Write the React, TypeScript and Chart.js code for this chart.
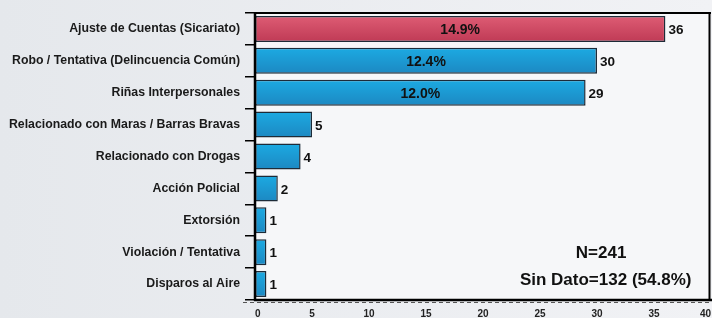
import React, { useEffect, useRef } from "react";
import { Chart, registerables } from "chart.js";

Chart.register(...registerables);

const categories = [
  "Ajuste de Cuentas (Sicariato)",
  "Robo / Tentativa (Delincuencia Común)",
  "Riñas Interpersonales",
  "Relacionado con Maras / Barras Bravas",
  "Relacionado con Drogas",
  "Acción Policial",
  "Extorsión",
  "Violación / Tentativa",
  "Disparos al Aire",
];
const counts = [36, 30, 29, 5, 4, 2, 1, 1, 1];
const percentLabels = ["14.9%", "12.4%", "12.0%", "", "", "", "", "", ""];
const highlight = [true, false, false, false, false, false, false, false, false];
const xTicks = [0, 5, 10, 15, 20, 25, 30, 35, 40];
const noteLines = ["N=241", "Sin Dato=132 (54.8%)"];

const FONT = "'Liberation Sans', Arial, sans-serif";

export default function App() {
  const ref = useRef<HTMLCanvasElement | null>(null);

  useEffect(() => {
    document.body.style.margin = "0";
    const canvas = ref.current;
    if (!canvas) return;

    const bgPlugin = {
      id: "bg",
      beforeDraw(chart: any) {
        const { ctx, width, height, chartArea: a } = chart;
        ctx.save();
        const g = ctx.createLinearGradient(0, 0, width, 0);
        g.addColorStop(0, "#e5e8ec");
        g.addColorStop(1, "#f1f2f5");
        ctx.fillStyle = g;
        ctx.fillRect(0, 0, width, height);
        ctx.fillStyle = "#f6f7f9";
        ctx.fillRect(a.left, a.top, a.right - a.left, a.bottom - a.top);
        ctx.restore();
      },
      afterDraw(chart: any) {
        const { ctx, chartArea: a, width } = chart;
        ctx.save();
        ctx.strokeStyle = "#000";
        ctx.lineWidth = 2;
        ctx.beginPath();
        ctx.moveTo(a.left, a.top);
        ctx.lineTo(a.right, a.top);
        ctx.moveTo(a.right - 1.5, a.top);
        ctx.lineTo(a.right - 1.5, a.bottom);
        ctx.stroke();
        ctx.lineWidth = 2.5;
        ctx.beginPath();
        ctx.moveTo(a.left, a.top - 1);
        ctx.lineTo(a.left, a.bottom + 1);
        ctx.moveTo(a.left - 1, a.bottom);
        ctx.lineTo(width, a.bottom);
        ctx.stroke();
        ctx.strokeStyle = "#555";
        ctx.lineWidth = 1;
        ctx.setLineDash([4, 3]);
        ctx.beginPath();
        ctx.moveTo(a.left - 12, a.bottom + 2.5);
        ctx.lineTo(width, a.bottom + 2.5);
        ctx.stroke();
        ctx.setLineDash([]);

        const meta = chart.getDatasetMeta(0);
        ctx.textBaseline = "middle";
        meta.data.forEach((bar: any, i: number) => {
          ctx.fillStyle = "#111";
          ctx.textAlign = "left";
          ctx.font = `bold 13.5px ${FONT}`;
          ctx.fillText(String(counts[i]), bar.x + 3, bar.y + 1.5);
          if (percentLabels[i]) {
            ctx.font = `bold 14px ${FONT}`;
            ctx.textAlign = "center";
            ctx.fillText(percentLabels[i], (bar.base + bar.x) / 2, bar.y + 1.5);
          }
        });

        ctx.font = `bold 17px ${FONT}`;
        ctx.textAlign = "center";
        ctx.fillStyle = "#111";
        const w = a.right - a.left;
        ctx.fillText(noteLines[0], a.left + 0.759 * w, a.bottom - 46.5);
        ctx.fillText(noteLines[1], a.left + 0.769 * w, a.bottom - 19.5);
        ctx.restore();
      },
    };

    const chart = new Chart(canvas, {
      type: "bar",
      data: {
        labels: categories,
        datasets: [
          {
            data: counts,
            backgroundColor: (c: any) => {
              const i = c.dataIndex;
              const ch = c.chart;
              const y = ch.scales?.y;
              const red = highlight[i];
              const fallback = red ? "#d04a64" : "#1c9bd6";
              if (!y || i === undefined) return fallback;
              const cy = y.getPixelForValue(i);
              if (!Number.isFinite(cy)) return fallback;
              const g = ch.ctx.createLinearGradient(0, cy - 13, 0, cy + 13);
              if (red) {
                g.addColorStop(0, "#de5c74");
                g.addColorStop(1, "#bf3a55");
              } else {
                g.addColorStop(0, "#1caae2");
                g.addColorStop(1, "#1c88c2");
              }
              return g;
            },
            borderColor: "#1d2b38",
            borderWidth: 1.5,
            borderSkipped: false,
            barPercentage: 0.815,
            categoryPercentage: 1,
          },
        ],
      },
      options: {
        indexAxis: "y",
        animation: false,
        responsive: false,
        maintainAspectRatio: false,
        layout: { padding: { top: 13, right: 1, left: 0, bottom: 0 } },
        plugins: {
          legend: { display: false },
          tooltip: { enabled: false },
        },
        scales: {
          x: {
            min: 0,
            max: 40,
            afterBuildTicks: (s: any) => {
              s.ticks = xTicks.map((v) => ({ value: v }));
            },
            grid: { display: false, drawTicks: false },
            border: { display: false },
            ticks: {
              color: "#222",
              font: { family: FONT, size: 10, weight: "bold" },
              padding: 8,
              maxRotation: 0,
              align: "inner",
            },
            afterFit: (s: any) => {
              s.height = 18;
              s.paddingLeft = 0;
              s.paddingRight = 0;
            },
          },
          y: {
            grid: {
              drawOnChartArea: false,
              drawTicks: true,
              tickLength: 10,
              color: "#000",
              lineWidth: 1.5,
              offset: true,
            },
            border: { display: false },
            ticks: {
              color: "#1a1a1a",
              font: { family: FONT, size: 12.3, weight: "bold" },
              padding: 5,
              autoSkip: false,
            },
            afterFit: (s: any) => {
              s.width = 255;
            },
          },
        },
      },
      plugins: [bgPlugin],
    } as any);

    return () => chart.destroy();
  }, []);

  return (
    <div style={{ width: 712, height: 318 }}>
      <canvas ref={ref} width={712} height={318} style={{ display: "block" }} />
    </div>
  );
}
